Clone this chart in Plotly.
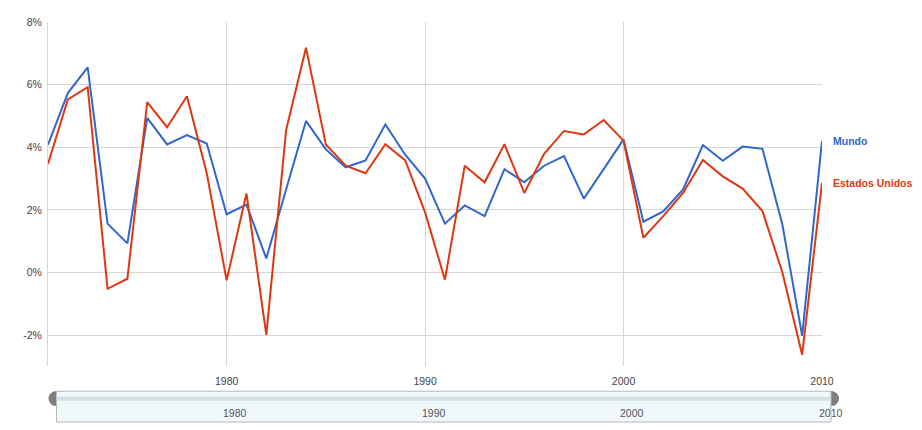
import plotly.graph_objects as go

years = list(range(1971, 2011))
mundo = [4.08, 5.73, 6.55, 1.56, 0.93, 4.94, 4.09, 4.39, 4.12, 1.86,
         2.17, 0.45, 2.66, 4.84, 3.93, 3.36, 3.58, 4.73, 3.76, 3.00,
         1.56, 2.14, 1.80, 3.30, 2.88, 3.41, 3.72, 2.36, 3.30, 4.25,
         1.62, 1.95, 2.65, 4.07, 3.57, 4.02, 3.95, 1.54, -2.02, 4.20]
eeuu = [3.47, 5.53, 5.92, -0.52, -0.20, 5.44, 4.64, 5.63, 3.17, -0.25,
        2.52, -1.99, 4.55, 7.18, 4.09, 3.41, 3.17, 4.10, 3.58, 1.92,
        -0.23, 3.41, 2.88, 4.10, 2.54, 3.79, 4.52, 4.41, 4.87, 4.21,
        1.11, 1.80, 2.54, 3.59, 3.07, 2.68, 1.96, 0.01, -2.63, 2.86]
series_names = ["Mundo", "Estados Unidos"]
series_colors = ["#3366cc", "#dc3912"]
y_ticks = [-2, 0, 2, 4, 6, 8]
y_ticktext = [f"{v}%" for v in y_ticks]
x_ticks = [1980, 1990, 2000, 2010]
slider_minor = [y for y in years if y not in x_ticks and y != 1971]

FONT = "Arial, Liberation Sans, sans-serif"
GRID = "#d6d6d6"

fig = go.Figure()
for name, vals, col in [(series_names[0], mundo, series_colors[0]),
                        (series_names[1], eeuu, series_colors[1])]:
    fig.add_trace(go.Scatter(x=years, y=vals, mode="lines", name=name,
                             line=dict(color=col, width=2),
                             xaxis="x", yaxis="y", cliponaxis=False))

# slider ticks
fig.add_trace(go.Scatter(x=slider_minor, y=[0.45] * len(slider_minor), mode="markers",
                         marker=dict(symbol="line-ns", size=3,
                                     line=dict(color="#777", width=1)),
                         xaxis="x2", yaxis="y2", hoverinfo="skip"))
fig.add_trace(go.Scatter(x=x_ticks, y=[0.5] * len(x_ticks), mode="markers",
                         marker=dict(symbol="line-ns", size=5,
                                     line=dict(color="#777", width=1)),
                         xaxis="x2", yaxis="y2", hoverinfo="skip"))

annotations = []
for name, vals, col in [(series_names[0], mundo, series_colors[0]),
                        (series_names[1], eeuu, series_colors[1])]:
    annotations.append(dict(x=years[-1], y=vals[-1], xref="x", yref="y",
                            text=f"<b>{name}</b>", showarrow=False,
                            xanchor="left", yanchor="middle", xshift=9,
                            font=dict(family=FONT, size=10.5, color=col)))
for t in x_ticks:
    annotations.append(dict(x=t, y=0.28, xref="x2", yref="y2 domain",
                            text=str(t), showarrow=False,
                            xanchor="center", yanchor="middle",
                            font=dict(family=FONT, size=10.5, color="#555")))

shapes = [
    # handles (drawn before box so box covers half)
    dict(type="circle", xref="x2 domain", yref="y2 domain",
         xsizemode="pixel", ysizemode="pixel", xanchor=0, yanchor=0.76,
         x0=-8, x1=8, y0=-7.5, y1=7.5, fillcolor="#7f7f7f", line=dict(width=0)),
    dict(type="circle", xref="x2 domain", yref="y2 domain",
         xsizemode="pixel", ysizemode="pixel", xanchor=1, yanchor=0.76,
         x0=-8, x1=8, y0=-7.5, y1=7.5, fillcolor="#7f7f7f", line=dict(width=0)),
    dict(type="rect", xref="x2 domain", yref="y2 domain", x0=0, x1=1, y0=0, y1=1,
         fillcolor="#f0f8fc", line=dict(color="#b8b8b8", width=1)),
    dict(type="rect", xref="x2 domain", yref="y2 domain", x0=0, x1=1, y0=0.69, y1=0.82,
         fillcolor="#d3dfe5", line=dict(width=0)),
]

# page body has an 8px margin, so the figure is offset by (8, 8)
fig.update_layout(
    width=914, height=422,
    margin=dict(l=40, r=91, t=11, b=8),
    paper_bgcolor="white", plot_bgcolor="white",
    showlegend=False,
    font=dict(family=FONT, size=10.5, color="#444"),
    xaxis=dict(domain=[0, 774 / 783], range=[1971, 2010], anchor="y",
               tickvals=x_ticks, ticktext=[str(t) for t in x_ticks],
               showgrid=True, gridcolor=GRID, gridwidth=1,
               zeroline=False, showline=False,
               ticks="outside", ticklen=5, tickcolor="rgba(0,0,0,0)",
               tickfont=dict(family=FONT, size=10.5, color="#444")),
    yaxis=dict(domain=[56 / 403, 1], range=[-3, 8], anchor="x",
               tickvals=y_ticks, ticktext=y_ticktext,
               showgrid=True, gridcolor=GRID, gridwidth=1,
               zeroline=False, showline=True, linecolor=GRID, linewidth=1,
               ticks="outside", ticklen=3, tickcolor="rgba(0,0,0,0)",
               tickfont=dict(family=FONT, size=10.5, color="#444")),
    xaxis2=dict(domain=[8.5 / 783, 1], range=[1971, 2010], anchor="y2",
                visible=False, fixedrange=True),
    yaxis2=dict(domain=[0, 31 / 403], range=[0, 1], anchor="x2",
                visible=False, fixedrange=True),
    annotations=annotations,
    shapes=shapes,
)

fig.write_html("out.html")
